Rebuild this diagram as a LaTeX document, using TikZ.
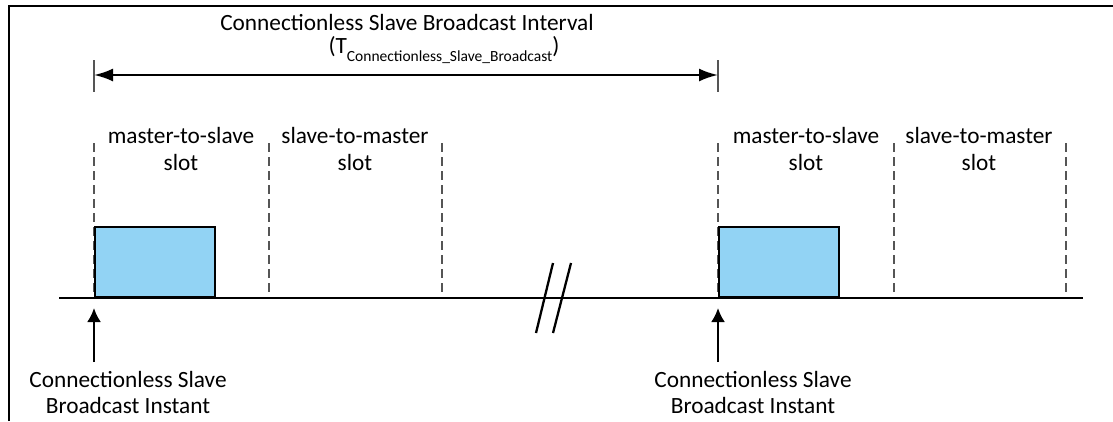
\documentclass[tikz,border=0pt]{standalone}
\usepackage{fontspec}
\setmainfont{Carlito}
\usetikzlibrary{arrows.meta,positioning,calc}
\definecolor{PacketBlue}{HTML}{92D3F4}
\definecolor{SlotGray}{HTML}{555555}

\begin{document}
\begin{tikzpicture}[x=1pt,y=-1pt,>={Latex[length=14pt,width=14pt]},
  slotline/.style={SlotGray,line width=1.8pt,dash pattern=on 9pt off 5pt},
  packet/.style={draw=black,fill=PacketBlue,line width=2.2pt,minimum width=120pt,minimum height=70pt,anchor=south west,inner sep=0pt},
  slottext/.style={align=center,inner sep=0pt,anchor=base,font=\fontsize{23.3}{27}\selectfont},
  instant/.style={align=center,inner sep=0pt,anchor=base,font=\fontsize{23.3}{26}\selectfont},
  every node/.style={font=\fontsize{23.3}{27}\selectfont}]
  \useasboundingbox (0,0) rectangle (1113,421);
  % frame
  \draw[line width=2.5pt] (9,421) -- (9,6) -- (1113,6);
  % interval
  \node[inner sep=0pt,anchor=base] (title) at (407,30) {Connectionless Slave Broadcast Interval};
  \node[inner sep=0pt,anchor=base] (sym) at (444,53) {(T\raisebox{-8pt}{\fontsize{15.5}{18}\selectfont Connectionless\_Slave\_Broadcast})};
  \coordinate (ia) at (94,75);
  \coordinate (ib) at (718,75);
  \draw[SlotGray,line width=1.3pt] ($(ia)+(0,-15)$) -- ($(ia)+(0,17)$);
  \draw[SlotGray,line width=1.3pt] ($(ib)+(0,-15)$) -- ($(ib)+(0,17)$);
  \draw[{Latex[length=19pt,width=13pt]}-{Latex[length=19pt,width=13pt]},line width=2.3pt] (ia) -- (ib);
  % slots
  \foreach \i/\x in {1/94,2/269,3/442,4/718,5/894,6/1066} {
    \coordinate (t\i) at (\x,143);
    \coordinate (b\i) at (\x,298);
    \draw[slotline] (t\i) -- (b\i);
  }
  \node[slottext] (ms1) at (181,170) {master-to-slave\\slot};
  \node[slottext] (sm1) at (355,170) {slave-to-master\\slot};
  \node[slottext] (ms2) at (806,170) {master-to-slave\\slot};
  \node[slottext] (sm2) at (979,170) {slave-to-master\\slot};
  % packets
  \node[packet] (p1) at (b1) {};
  \node[packet] (p2) at (b4) {};
  % time line
  \coordinate (ta) at (59,298);
  \coordinate (tb) at (1083,298);
  \draw[line width=2.7pt] (ta) -- (tb);
  % break
  \draw[line width=2.3pt] (553,263) -- (536,333);
  \draw[line width=2.3pt] (571,263) -- (553,333);
  % instants
  \coordinate (u1) at (94,362);
  \coordinate (u4) at (718,362);
  \draw[->,line width=2.3pt,shorten >=10pt] (u1) -- (b1);
  \draw[->,line width=2.3pt,shorten >=10pt] (u4) -- (b4);
  \node[instant] (ci1) at (128,413) {Connectionless Slave\\Broadcast Instant};
  \node[instant] (ci2) at (753,413) {Connectionless Slave\\Broadcast Instant};
\end{tikzpicture}
\end{document}
